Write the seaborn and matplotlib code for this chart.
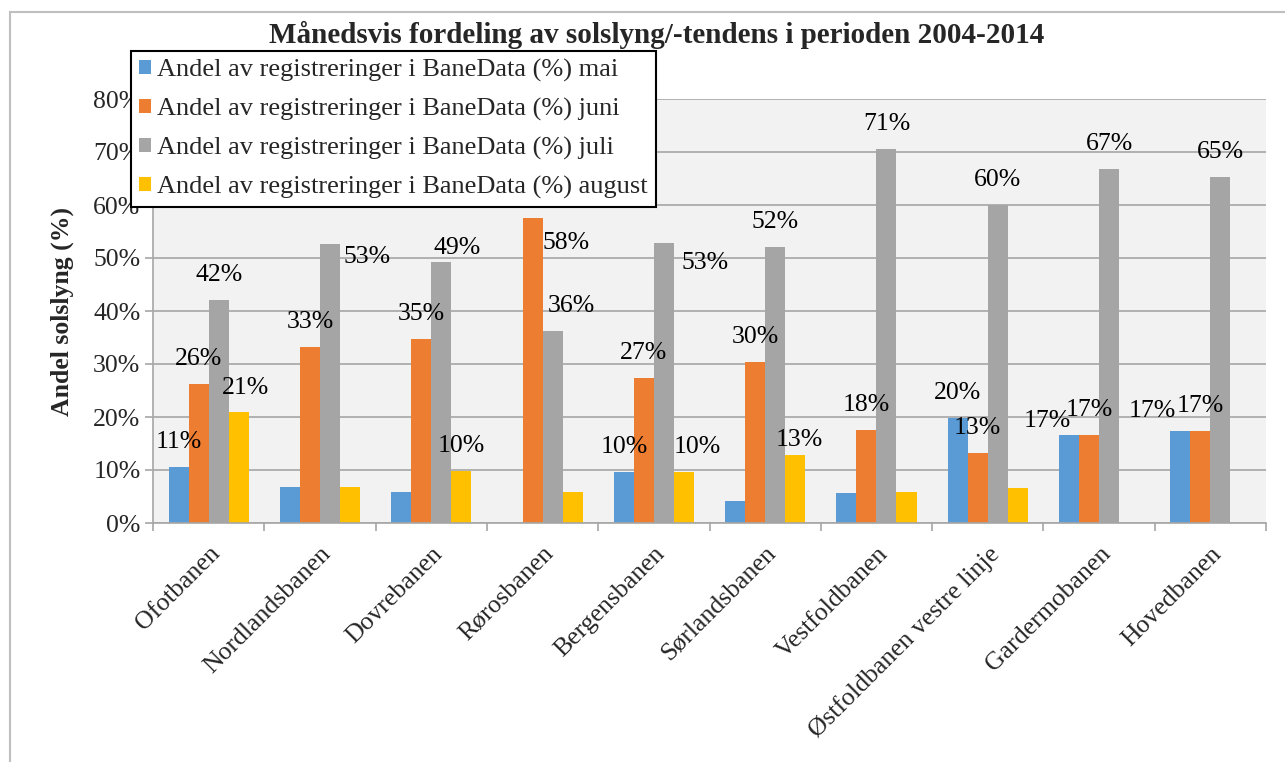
import pandas as pd
import matplotlib.pyplot as plt
import matplotlib.patches as mpatches
import seaborn as sns

# data
baner = ['Ofotbanen', 'Nordlandsbanen', 'Dovrebanen', 'Rørosbanen', 'Bergensbanen',
         'Sørlandsbanen', 'Vestfoldbanen', 'Østfoldbanen vestre linje', 'Gardermobanen', 'Hovedbanen']
serier = ['Andel av registreringer i BaneData (%) mai',
          'Andel av registreringer i BaneData (%) juni',
          'Andel av registreringer i BaneData (%) juli',
          'Andel av registreringer i BaneData (%) august']

mai = [10.5, 6.7, 5.8, 0.0, 9.6, 4.2, 5.7, 19.9, 16.6, 17.3]
juni = [26.2, 33.2, 34.8, 57.6, 27.4, 30.3, 17.5, 13.2, 16.6, 17.3]
juli = [42.1, 52.7, 49.2, 36.3, 52.9, 52.1, 70.6, 60.0, 66.7, 65.2]
august = [20.9, 6.8, 9.8, 5.9, 9.7, 12.9, 5.8, 6.6, 0.0, 0.0]

etiketter_mai = ['11%', '', '', '', '10%', '', '', '20%', '17%', '17%']
etiketter_juni = ['26%', '33%', '35%', '58%', '27%', '30%', '18%', '13%', '17%', '17%']
etiketter_juli = ['42%', '53%', '49%', '36%', '53%', '52%', '71%', '60%', '67%', '65%']
etiketter_august = ['21%', '', '10%', '', '10%', '13%', '', '', '', '']

farger = ['#5b9bd5', '#ed7d31', '#a5a5a5', '#ffc000']

df = pd.DataFrame({
    'bane': baner * 4,
    'serie': [s for s in serier for _ in baner],
    'andel': mai + juni + juli + august,
})

sns.set_style('white')
plt.rcParams['font.family'] = ['Liberation Serif', 'DejaVu Serif']

fig = plt.figure(figsize=(12.85, 7.62), dpi=100)
ax = fig.add_axes([153 / 1285, 1 - 523 / 762, (1266 - 153) / 1285, (523 - 99) / 762])
ax.set_facecolor('#f2f2f2')

sns.barplot(data=df, x='bane', y='andel', hue='serie', hue_order=serier,
            palette=farger, width=0.72, gap=0, linewidth=0, saturation=1, ax=ax)

# dataetiketter (forskyvning i piksler der Excel flyttet dem)
flytt = {(2, 1): (37, -13), (2, 2): (16, 14), (1, 3): (34, -25), (2, 3): (19, 25),
         (2, 4): (41, -20), (3, 4): (13, 25), (3, 5): (4, 15), (3, 0): (7, 24),
         (0, 8): (-22, 14), (0, 9): (-28, 20)}
alle_etiketter = [etiketter_mai, etiketter_juni, etiketter_juli, etiketter_august]
for s, cont in enumerate(ax.containers):
    for i, bar in enumerate(cont):
        tekst = alle_etiketter[s][i]
        if not tekst:
            continue
        dx, dy = flytt.get((s, i), (0, 25))
        ax.annotate(tekst, (bar.get_x() + bar.get_width() / 2, bar.get_height()),
                    xytext=(dx * 0.72, dy * 0.72), textcoords='offset points',
                    ha='center', va='center', fontsize=18.5, color='black')

ax.set_ylim(0, 80)
ax.set_yticks(range(0, 81, 10))
ax.set_yticklabels([f'{v}%' for v in range(0, 81, 10)], fontsize=18.5)
ax.yaxis.grid(True, color='#a6a6a6', linewidth=1.2)
ax.set_axisbelow(True)
ax.set_xlim(-0.5, len(baner) - 0.5)
ax.set_xticks([i - 0.5 for i in range(len(baner) + 1)], minor=False)
ax.set_xticklabels([])
ax.set_xticks(range(len(baner)), minor=True)
ax.set_xticklabels(baner, minor=True, rotation=45, ha='right', rotation_mode='anchor', fontsize=18.5)
ax.tick_params(axis='x', which='major', length=6, color='#a6a6a6', width=1.2, direction='out', bottom=True)
ax.tick_params(axis='x', which='minor', length=0, pad=14)
ax.tick_params(axis='y', length=6, color='#a6a6a6', width=1.2, left=True, pad=3)

for side in ['top', 'right']:
    ax.spines[side].set_visible(False)
for side in ['left', 'bottom']:
    ax.spines[side].set_color('#a6a6a6')
    ax.spines[side].set_linewidth(1.2)

ax.set_xlabel('')
ax.set_ylabel('Andel solslyng (%)', fontsize=18.5, fontweight='bold', va='center')
ax.yaxis.set_label_coords(62 / 1285, 1 - 311 / 762, transform=fig.transFigure)

fig.text(657 / 1285, 1 - 35 / 762, 'Månedsvis fordeling av solslyng/-tendens i perioden 2004-2014',
         ha='center', va='center', fontsize=21, fontweight='bold')

handles, labels = ax.get_legend_handles_labels()
ax.get_legend().remove()
leg = ax.legend(handles, labels, loc='upper left', bbox_to_anchor=(131 / 1285, 1 - 51 / 762),
                bbox_transform=fig.transFigure, borderaxespad=0, fontsize=19,
                frameon=True, fancybox=False, framealpha=1, edgecolor='black',
                handlelength=0.45, handleheight=0.45, handletextpad=0.25,
                labelspacing=0.6, borderpad=0.3)
leg.get_frame().set_linewidth(1.5)

# ytre ramme rundt diagrammet
fig.patches.append(mpatches.Rectangle((10 / 1285, -0.1), 1.2, 1 - 12 / 762 + 0.1,
                                      transform=fig.transFigure, fill=False,
                                      edgecolor='#bfbfbf', linewidth=1.5))

fig.savefig('out.png', dpi=100)
